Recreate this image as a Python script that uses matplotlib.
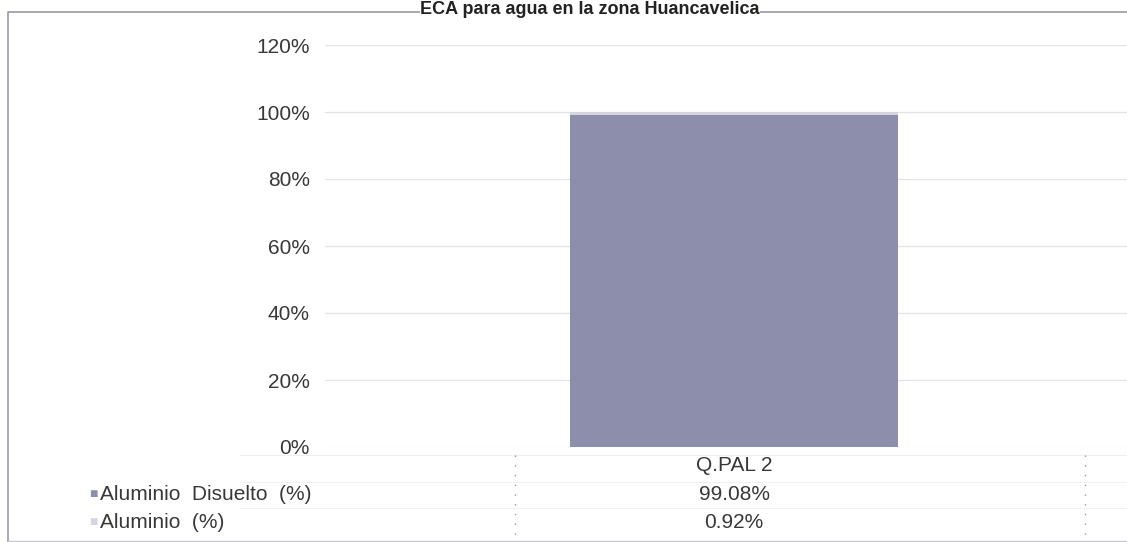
import matplotlib.pyplot as plt
from matplotlib.transforms import blended_transform_factory
from matplotlib.lines import Line2D

# stacked percentage of aluminium per sampling point
categories = ['Q.PAL 2']
disuelto = [99.08]
aluminio = [0.92]
series_names = ['Aluminio  Disuelto  (%)', 'Aluminio  (%)']
yticks = [0, 20, 40, 60, 80, 100, 120]

c_dis = '#8c8eac'
c_al = '#d4d4e2'
txt = '#383838'

plt.rcParams['font.family'] = ['Liberation Sans', 'DejaVu Sans']

fig = plt.figure(figsize=(11.27, 5.42), dpi=100)
W, H = 1127, 542
ax = fig.add_axes([325 / W, 95 / H, 818 / W, 402 / H])

x = list(range(len(categories)))
ax.bar(x, disuelto, width=0.4, color=c_dis, zorder=2)
ax.bar(x, aluminio, width=0.4, bottom=disuelto, color=c_al, zorder=2)

ax.set_xlim(-0.5, len(categories) - 0.5)
ax.set_ylim(0, 120)
ax.set_yticks(yticks)
ax.set_yticklabels([f'{v}%' for v in yticks], fontsize=15, color=txt)
ax.set_xticks([])
ax.tick_params(axis='y', length=0, pad=11)
ax.grid(axis='y', color='#e2e2e8', lw=0.9, zorder=0)
for s in ax.spines.values():
    s.set_visible(False)

# data table under the plot
tr = blended_transform_factory(ax.transData, ax.transAxes)
rows_y = [-0.045, -0.117, -0.187]
for i, cat in enumerate(categories):
    ax.text(i, rows_y[0], cat, transform=tr, ha='center', va='center',
            fontsize=15, color=txt, clip_on=False)
    ax.text(i, rows_y[1], f'{disuelto[i]:.2f}%', transform=tr, ha='center',
            va='center', fontsize=15, color=txt, clip_on=False)
    ax.text(i, rows_y[2], f'{aluminio[i]:.2f}%', transform=tr, ha='center',
            va='center', fontsize=15, color=txt, clip_on=False)

for name, col, yp in zip(series_names, [c_dis, c_al], [494, 522]):
    fig.text(93 / W, 1 - yp / H, '\u25A0', color=col, fontsize=10,
             ha='center', va='center')
    fig.text(100 / W, 1 - yp / H, name, fontsize=15, color=txt,
             ha='left', va='center')

# faint table borders
for yp in [455, 482, 508]:
    fig.add_artist(Line2D([240 / W, 1], [1 - yp / H] * 2, color='#f0f0f3',
                          lw=0.8, transform=fig.transFigure))
for xp in [515, 1085]:
    fig.add_artist(Line2D([xp / W] * 2, [1 - 455 / H, 1 - 540 / H],
                          color='#999999', lw=1, ls=(0, (1, 6)),
                          transform=fig.transFigure))

# outer chart frame
fig.add_artist(Line2D([8 / W, 8 / W, 1], [0, 1 - 12 / H, 1 - 12 / H],
                      color='#9a9aa8', lw=1.2, transform=fig.transFigure))
fig.add_artist(Line2D([8 / W, 1], [1 / H, 1 / H], color='#c8c8d0', lw=1,
                      transform=fig.transFigure))

fig.text(590 / W, 1 - 1 / H, 'ECA para agua en la zona Huancavelica',
         fontsize=13, fontweight='bold', color='#222222', ha='center',
         va='top', bbox=dict(facecolor='white', edgecolor='none', pad=0))

fig.savefig('out.png', dpi=100)
